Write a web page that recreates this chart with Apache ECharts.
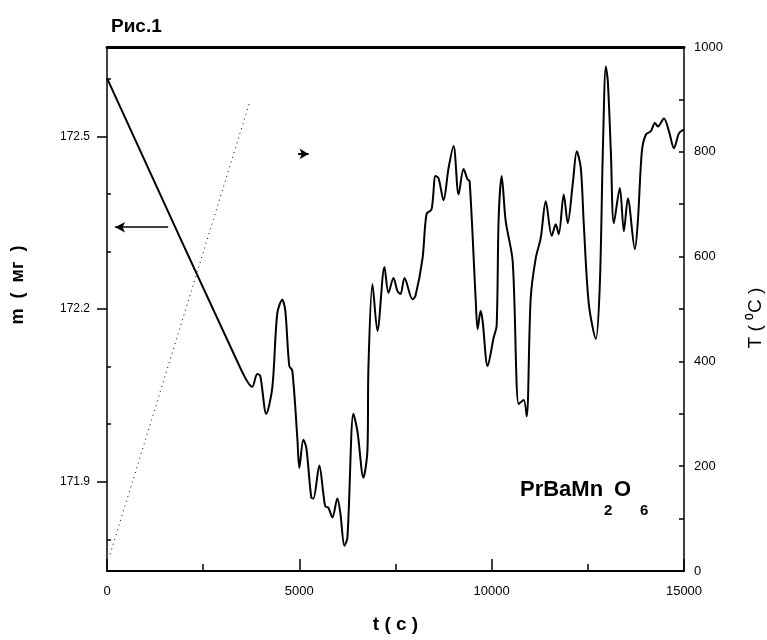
<!DOCTYPE html>
<html>
<head>
<meta charset="utf-8">
<title>PrBaMn2O6</title>
<script src="https://cdn.jsdelivr.net/npm/echarts@6/dist/echarts.min.js"></script>
<style>
  html, body { margin: 0; padding: 0; background: #fff; }
  #chart { width: 767px; height: 640px; }
</style>
</head>
<body>
<div id="chart"></div>
<script>
// масса образца (мг) по времени (с)
var timeMass = [
  0, 3463, 3776, 3906, 3984, 4140, 4297, 4427,
  4557, 4635, 4739, 4817, 4948, 5000, 5104, 5182,
  5312, 5364, 5520, 5625, 5677, 5755, 5859, 5989,
  6067, 6171, 6250, 6406, 6510, 6666, 6770, 6796,
  6901, 7031, 7213, 7317, 7447, 7552, 7630, 7734,
  7942, 8020, 8203, 8307, 8437, 8541, 8619, 8749,
  8880, 9010, 9140, 9270, 9374, 9427, 9583, 9635,
  9713, 9765, 9895, 10051, 10129, 10182, 10260, 10364,
  10546, 10702, 10833, 10911, 11015, 11145, 11275, 11406,
  11562, 11666, 11744, 11874, 11978, 12109, 12213, 12317,
  12395, 12525, 12708, 12812, 12890, 12968, 13020, 13098,
  13176, 13332, 13437, 13541, 13723, 13801, 13905, 14010,
  14140, 14244, 14322, 14478, 14608, 14739, 14869, 15000
];
var massVals = [
  172.601, 172.098, 172.065, 172.087, 172.084, 172.018, 172.063, 172.193,
  172.216, 172.197, 172.101, 172.093, 171.976, 171.924, 171.973, 171.959,
  171.872, 171.871, 171.928, 171.879, 171.857, 171.855, 171.838, 171.871,
  171.845, 171.789, 171.803, 172.018, 171.988, 171.907, 171.954, 172.098,
  172.243, 172.162, 172.273, 172.228, 172.254, 172.231, 172.226, 172.254,
  172.217, 172.223, 172.288, 172.365, 172.373, 172.431, 172.427, 172.389,
  172.445, 172.483, 172.399, 172.443, 172.425, 172.422, 172.219, 172.165,
  172.197, 172.179, 172.101, 172.150, 172.171, 172.358, 172.431, 172.353,
  172.283, 172.035, 172.042, 172.014, 172.219, 172.288, 172.323, 172.387,
  172.327, 172.347, 172.330, 172.399, 172.349, 172.418, 172.474, 172.445,
  172.347, 172.209, 172.148, 172.243, 172.474, 172.621, 172.595, 172.474,
  172.349, 172.410, 172.335, 172.392, 172.304, 172.353, 172.474, 172.503,
  172.509, 172.523, 172.517, 172.531, 172.509, 172.479, 172.505, 172.512
];
// температура (пунктир)
var timeTemp = [80, 3700];
var tempVals = [32, 893];
// подписи и риски осей
var timeLabels = [0, 5000, 10000, 15000];
var massLabels = [171.9, 172.2, 172.5];
var massTicks = [171.8, 172.0, 172.1, 172.3, 172.4, 172.6];
var tempLabels = [0, 200, 400, 600, 800, 1000];
// стрелки-указатели
var arrowMass = [[1590, 172.342], [210, 172.342]];
var arrowTemp = [[4970, 796], [5240, 796]];

(function() {
  var font = "'Liberation Sans', Arial, sans-serif";
  var massMin = 171.745, massMax = 172.655;
  var plain = function(v) { return String(v); };
  var myChart = echarts.init(document.getElementById('chart'));

  var massData = timeMass.map(function(t, i) { return [t, massVals[i]]; });
  var tempData = timeTemp.map(function(t, i) { return [t, tempVals[i]]; });

  var option = {
    animation: false,
    backgroundColor: '#fff',
    title: {
      text: 'Рис.1',
      left: 106,
      top: 12,
      textStyle: { fontFamily: font, fontSize: 19, fontWeight: 'bold', color: '#000' }
    },
    grid: [
      { left: 107, right: 83, top: 47, bottom: 69, outerBoundsMode: 'none', containLabel: false },
      { left: 107, right: 83, top: 47, bottom: 69, outerBoundsMode: 'none', containLabel: false }
    ],
    xAxis: [
      {
        type: 'value', gridIndex: 0, position: 'bottom',
        min: 0, max: 15000, interval: 2500,
        name: 't ( c )', nameLocation: 'middle', nameGap: 44,
        nameTextStyle: { fontFamily: font, fontSize: 19, fontWeight: 'bold', color: '#000' },
        axisLine: { onZero: false, lineStyle: { color: '#000', width: 2 } },
        axisTick: { inside: true, length: 7, lineStyle: { color: '#000', width: 1.5 } },
        axisLabel: {
          customValues: timeLabels, margin: 14, formatter: plain,
          fontFamily: font, fontSize: 13, color: '#000'
        },
        splitLine: { show: false }
      },
      {
        type: 'value', gridIndex: 0, position: 'top',
        min: 0, max: 15000,
        axisLine: { onZero: false, lineStyle: { color: '#000', width: 3 } },
        axisTick: { show: false },
        axisLabel: { show: false },
        splitLine: { show: false }
      },
      {
        // длинные риски оси времени
        type: 'value', gridIndex: 1, position: 'bottom',
        min: 0, max: 15000, interval: 5000,
        axisLine: { show: false, onZero: false },
        axisTick: { inside: true, length: 12, lineStyle: { color: '#000', width: 1.5 } },
        axisLabel: { show: false },
        splitLine: { show: false }
      }
    ],
    yAxis: [
      {
        type: 'value', gridIndex: 0, position: 'left',
        min: massMin, max: massMax,
        name: 'm  (  мг  )', nameLocation: 'middle', nameGap: 80, nameRotate: 90,
        nameTextStyle: { fontFamily: font, fontSize: 18, fontWeight: 'bold', color: '#000', padding: [0, 0, 0, 48] },
        axisLine: { onZero: false, lineStyle: { color: '#000', width: 1.5 } },
        axisTick: { customValues: massLabels, length: 10, lineStyle: { color: '#000', width: 1.5 } },
        axisLabel: {
          customValues: massLabels, margin: 17,
          fontFamily: font, fontSize: 12, color: '#000',
          formatter: function(v) { return v.toFixed(1); }
        },
        splitLine: { show: false }
      },
      {
        type: 'value', gridIndex: 0, position: 'right',
        min: 0, max: 1000, interval: 100,
        name: 'T ( \u2070C )', nameLocation: 'middle', nameGap: 62, nameRotate: 90,
        nameTextStyle: { fontFamily: font, fontSize: 19, color: '#000', padding: [0, 18, 0, 0] },
        axisLine: { onZero: false, lineStyle: { color: '#000', width: 1.5 } },
        axisTick: { inside: true, length: 5, lineStyle: { color: '#000', width: 1.5 } },
        axisLabel: {
          customValues: tempLabels, margin: 10, formatter: plain,
          fontFamily: font, fontSize: 13, color: '#000'
        },
        splitLine: { show: false }
      },
      {
        // малые риски оси массы
        type: 'value', gridIndex: 1, position: 'left',
        min: massMin, max: massMax,
        axisLine: { show: false, onZero: false },
        axisTick: { customValues: massTicks, inside: true, length: 4, lineStyle: { color: '#000', width: 1.5 } },
        axisLabel: { customValues: massTicks, color: 'rgba(0,0,0,0)' },
        splitLine: { show: false }
      }
    ],
    graphic: [
      { type: 'text', x: 520, y: 479, style: { text: 'PrBaMn', font: 'bold 22px ' + font, fill: '#000', verticalAlign: 'top' } },
      { type: 'text', x: 604, y: 503, style: { text: '2', font: 'bold 15px ' + font, fill: '#000', verticalAlign: 'top' } },
      { type: 'text', x: 614, y: 479, style: { text: 'O', font: 'bold 22px ' + font, fill: '#000', verticalAlign: 'top' } },
      { type: 'text', x: 640, y: 503, style: { text: '6', font: 'bold 15px ' + font, fill: '#000', verticalAlign: 'top' } }
    ],
    series: [
      {
        name: 'm',
        type: 'line',
        xAxisIndex: 0,
        yAxisIndex: 0,
        data: massData,
        showSymbol: false,
        smooth: 0.3,
        lineStyle: { color: '#000', width: 2 },
        markLine: {
          silent: true,
          symbol: ['none', 'arrow'],
          symbolSize: [8, 10],
          label: { show: false },
          lineStyle: { color: '#000', width: 1.5, type: 'solid' },
          data: [[{ coord: arrowMass[0] }, { coord: arrowMass[1] }]]
        }
      },
      {
        name: 'T',
        type: 'line',
        xAxisIndex: 0,
        yAxisIndex: 1,
        data: tempData,
        showSymbol: false,
        lineStyle: { color: '#000', width: 1, type: [1, 4] },
        markLine: {
          silent: true,
          symbol: ['none', 'arrow'],
          symbolSize: [8, 9],
          label: { show: false },
          lineStyle: { color: '#000', width: 2, type: 'solid' },
          data: [[{ coord: arrowTemp[0] }, { coord: arrowTemp[1] }]]
        }
      }
    ]
  };
  myChart.setOption(option);
  // при изменении окна график масштабируется
  window.addEventListener('resize', function() {
    myChart.resize();
  });
})();
</script>
</body>
</html>
